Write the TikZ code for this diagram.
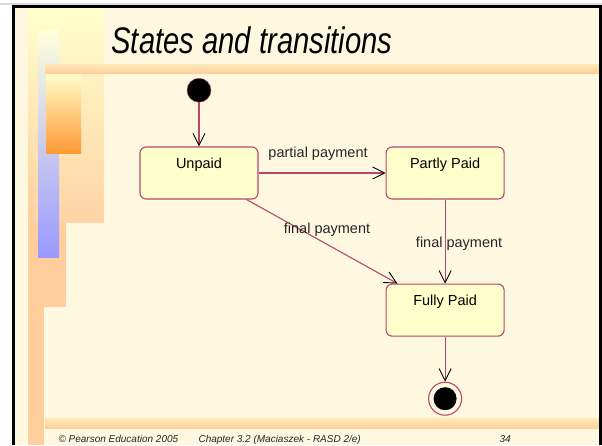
\documentclass[tikz,border=0pt]{standalone}
\usepackage{fontspec}
\setmainfont{Liberation Sans}
\usetikzlibrary{
	positioning,
	arrows.meta
}
\definecolor{slide}{RGB}{255,248,225}
\definecolor{peach}{RGB}{255,206,156}
\definecolor{paleyellow}{RGB}{255,255,204}
\definecolor{deeporange}{RGB}{255,153,51}
\definecolor{periwinkle}{RGB}{153,153,255}
\definecolor{umlred}{RGB}{185,70,108}
\tikzset{
	x=1pt,
	y=-1pt,
	node distance=10pt,
	every edge/.append style={
		draw=umlred,
		line width=1.1pt,
		-{Straight Barb[black,length=12pt,width=12pt,line width=0.9pt]}
	},
	state box/.style={
		draw=umlred,
		line width=1.1pt,
		fill=paleyellow,
		rounded corners=6pt,
		minimum width=118pt,
		minimum height=52pt,
		text height=10pt,
		text depth=20pt,
		font=\fontsize{14.5}{16}\selectfont
	},
	start/.style={
		circle,
		draw=umlred,
		fill=black,
		minimum size=24pt,
		inner sep=0pt
	},
	stop/.style={
		circle,
		draw=umlred,
		line width=1.1pt,
		fill=slide,
		minimum size=33pt,
		inner sep=0pt,
		path picture={\fill[black] (path picture bounding box.center) circle (11.5pt);}
	},
	trans/.style={
		font=\fontsize{14.5}{16}\selectfont,
		text=black!85
	},
	foot/.style={
		anchor=base west,
		font=\fontsize{10}{12}\selectfont\itshape,
		text=black!85
	}
}

\begin{document}
\begin{tikzpicture}
	\useasboundingbox (0,0) rectangle (602,445);
	% slide background
	\fill[white] (0,0) rectangle (602,445);
	\fill[black!15] (0,3) rectangle (602,5);
	\fill[slide] (14,7) rectangle (600,445);
	\shade[top color=paleyellow, bottom color=peach] (28,8) rectangle (44,222);
	\fill[peach] (28,222) rectangle (44,445);
	\shade[top color=paleyellow, bottom color=peach!90] (33,8) rectangle (104,222);
	\fill[peach] (41,222) rectangle (66,307);
	\shade[top color=paleyellow!70!white, bottom color=periwinkle] (38,30) rectangle (59,257);
	\shade[top color=paleyellow, bottom color=deeporange] (46,73) rectangle (81,153);
	\shade[top color=paleyellow!60!peach, bottom color=peach] (45,64) rectangle (600,73);
	\shade[top color=paleyellow!60!peach, bottom color=peach] (45,418) rectangle (600,428);
	\draw[line width=3pt] (13.5,445) -- (13.5,6) -- (600,6) -- (600,445);

	\node[anchor=base, font=\fontsize{37}{40}\selectfont\itshape] (title) at (252,53)
		{\scalebox{0.79}[1]{States and transitions}};

	\draw
		node[state box] (unpaid) at (199,173) {Unpaid}
		node[start, above=44pt of unpaid] (init) {}
		node[state box, right=127pt of unpaid] (partly) {Partly Paid}
		node[state box, below=84pt of partly] (fully) {Fully Paid}
		node[stop, below=45pt of fully] (final) {}

		(init) edge (unpaid)
		(unpaid) edge node[trans, above=9pt, xshift=-4pt] {partial payment} (partly)
		(unpaid) edge node[trans, pos=0.5, anchor=south, xshift=5pt, yshift=1.5pt] {final payment} (fully)
		(partly) edge node[trans, xshift=14pt, yshift=-2pt] {final payment} (fully)
		(fully) edge (final)
	;

	\node[foot] (copy) at (55,442) {© Pearson Education 2005};
	\node[foot] (chap) at (195,442) {Chapter 3.2 (Maciaszek - RASD 2/e)};
	\node[foot] (page) at (496,442) {34};
\end{tikzpicture}
\end{document}
